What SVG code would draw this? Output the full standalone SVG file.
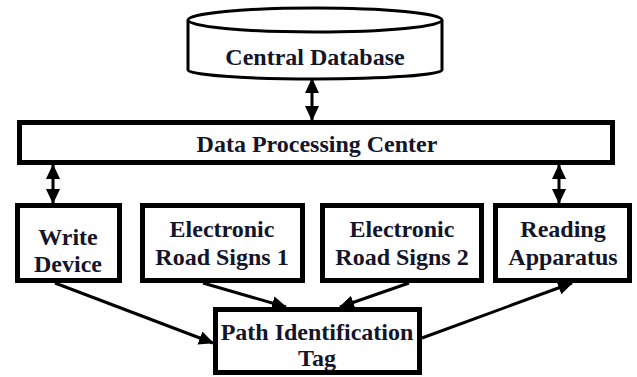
<svg xmlns="http://www.w3.org/2000/svg" width="637" height="377" viewBox="0 0 637 377">
<style>
.box{fill:#fff;stroke:#000;stroke-width:5}
.cyl{fill:#fff;stroke:#000;stroke-width:3}
.t{font-family:'Liberation Serif','Times New Roman',serif;font-weight:bold;font-size:24px;fill:#14142a;text-anchor:middle}
.c{stroke:#000;stroke-width:3;fill:none}
</style>
<defs>
<marker id="ah" viewBox="0 0 15 14" refX="14" refY="7" markerWidth="15" markerHeight="14" markerUnits="userSpaceOnUse" orient="auto-start-reverse">
<path d="M0,0 L15,7 L0,14 z" fill="#000"/>
</marker>
</defs>
<rect width="637" height="377" fill="#fff"/>
<g id="central-database">
<path class="cyl" d="M188,20 L188,70 A127,9 0 0 0 442,70 L442,20"/>
<ellipse class="cyl" cx="315" cy="20" rx="127" ry="12"/>
<text class="t" x="315" y="65">Central Database</text>
</g>
<g id="data-processing-center">
<rect class="box" x="19.5" y="122.5" width="593" height="40"/>
<text class="t" x="317" y="152">Data Processing Center</text>
</g>
<g id="write-device">
<rect class="box" x="17.5" y="205.5" width="102" height="75"/>
<text class="t" x="68" y="245">Write</text>
<text class="t" x="68" y="272">Device</text>
</g>
<g id="electronic-road-signs-1">
<rect class="box" x="142.5" y="205.5" width="160" height="75"/>
<text class="t" x="222" y="237">Electronic</text>
<text class="t" x="222" y="265">Road Signs 1</text>
</g>
<g id="electronic-road-signs-2">
<rect class="box" x="322.5" y="205.5" width="159" height="75"/>
<text class="t" x="402" y="237">Electronic</text>
<text class="t" x="402" y="265">Road Signs 2</text>
</g>
<g id="reading-apparatus">
<rect class="box" x="495.5" y="205.5" width="134" height="75"/>
<text class="t" x="563" y="237">Reading</text>
<text class="t" x="563" y="265">Apparatus</text>
</g>
<g id="path-identification-tag">
<rect class="box" x="215.5" y="309.5" width="204" height="63"/>
<text class="t" x="317" y="340">Path Identification</text>
<text class="t" x="317" y="366">Tag</text>
</g>
<g id="connectors">
<line class="c" x1="312" y1="79" x2="312" y2="120" marker-start="url(#ah)" marker-end="url(#ah)"/>
<line class="c" x1="53" y1="165" x2="53" y2="203" marker-start="url(#ah)" marker-end="url(#ah)"/>
<line class="c" x1="559" y1="165" x2="559" y2="203" marker-start="url(#ah)" marker-end="url(#ah)"/>
<line class="c" x1="55" y1="283" x2="213" y2="343" marker-end="url(#ah)"/>
<line class="c" x1="203" y1="283" x2="286" y2="307" marker-end="url(#ah)"/>
<line class="c" x1="409" y1="283" x2="340" y2="307" marker-end="url(#ah)"/>
<line class="c" x1="422" y1="338" x2="572" y2="283" marker-end="url(#ah)"/>
</g>
</svg>
